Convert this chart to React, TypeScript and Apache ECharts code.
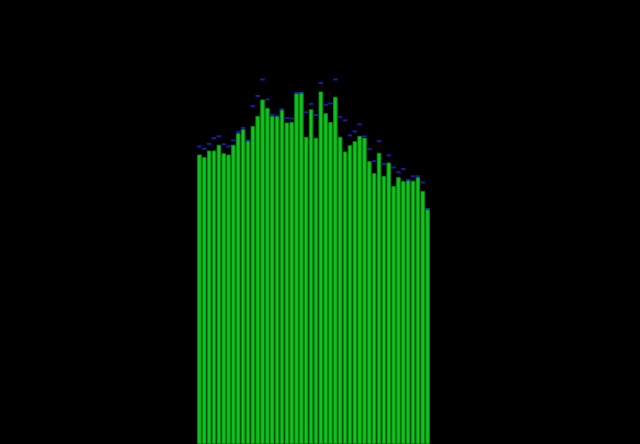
import { useEffect, useRef } from 'react';
import * as echarts from 'echarts';

// 48 periods, values in % of the full height
const categories: string[] = Array.from({ length: 48 }, (_, i) => `P${i + 1}`);

const barValues: number[] = [
  65.2, 64.6, 66.1, 66.1, 67.4, 65.5, 65.2, 67.4, 70.0, 70.9,
  68.5, 71.6, 73.9, 77.6, 75.7, 73.9, 73.9, 75.5, 72.4, 72.5,
  79.1, 79.3, 69.2, 75.4, 69.0, 79.4, 74.5, 72.5, 78.2, 69.2,
  65.9, 67.3, 68.2, 69.4, 69.0, 63.7, 61.0, 65.6, 60.4, 63.4,
  58.1, 60.1, 59.2, 59.6, 59.3, 60.1, 57.0, 53.1,
];

const markerValues: number[] = [
  67.0, 66.5, 67.6, 68.9, 69.3, 67.5, 67.0, 68.4, 70.3, 71.2,
  68.3, 76.1, 78.4, 82.1, 77.6, 74.1, 73.9, 75.3, 73.4, 73.3,
  79.0, 79.1, 74.7, 76.6, 74.1, 81.3, 76.4, 76.7, 82.1, 73.6,
  72.9, 69.5, 70.4, 72.0, 69.3, 66.4, 63.7, 68.2, 63.1, 65.0,
  62.3, 61.2, 61.9, 59.4, 60.3, 60.3, 58.9, 52.9,
];

const App = () => {
  const chartRef = useRef<HTMLDivElement>(null);

  useEffect(() => {
    document.body.style.margin = '0';
    document.body.style.background = '#000';
    if (!chartRef.current) return;
    const chart = echarts.init(chartRef.current, undefined, { renderer: 'svg' });

    const option: echarts.EChartsOption = {
      animation: false,
      backgroundColor: '#000000',
      grid: { left: 197, right: 210, top: 0, bottom: 0 },
      xAxis: {
        type: 'category',
        data: categories,
        show: false,
      },
      yAxis: {
        type: 'value',
        min: 0,
        max: 100,
        show: false,
      },
      series: [
        {
          type: 'bar',
          data: barValues,
          barCategoryGap: '7%',
          itemStyle: {
            color: '#12c21e',
            borderColor: '#0b8a15',
            borderWidth: 1,
          },
        },
        {
          type: 'scatter',
          data: markerValues,
          symbol: 'rect',
          symbolSize: [4.5, 2],
          itemStyle: { color: '#2222d4' },
          z: 3,
        },
      ],
    };

    chart.setOption(option);
    return () => {
      chart.dispose();
    };
  }, []);

  return (
    <div
      ref={chartRef}
      style={{ position: 'absolute', left: 0, top: 0, width: 640, height: 444 }}
    />
  );
};

export default App;
